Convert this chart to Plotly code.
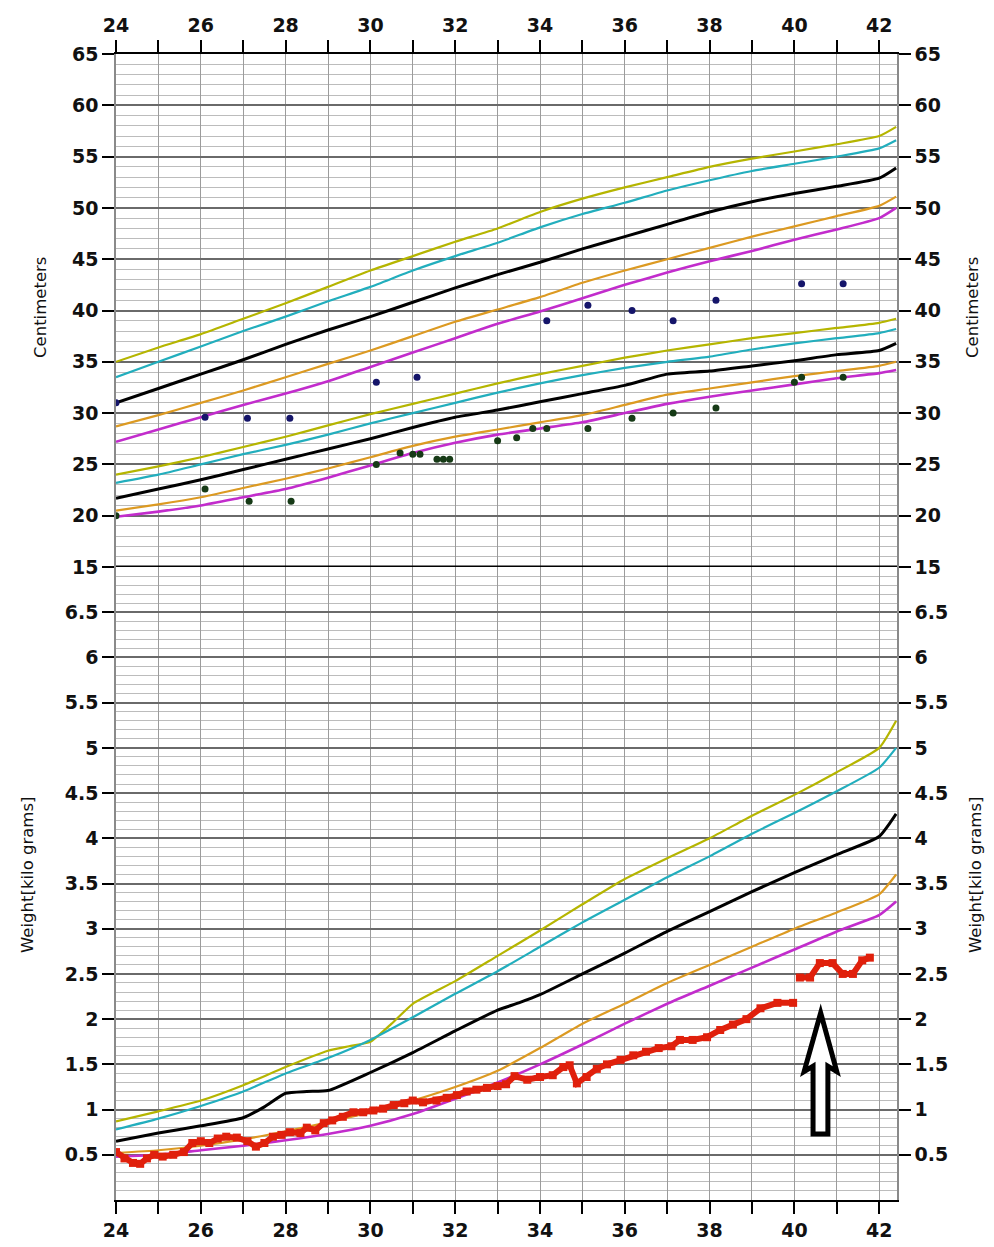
import plotly.graph_objects as go

# ---------------- data ----------------
weeks = [24, 25, 26, 27, 28, 29, 30, 31, 32, 33, 34, 35, 36, 37, 38, 39, 40, 41, 42, 42.4]

# Length reference curves (cm)
len_yellow = [35.0, 36.4, 37.7, 39.2, 40.7, 42.3, 43.9, 45.3, 46.7, 48.0, 49.6, 50.9, 52.0, 53.0, 54.0, 54.8, 55.5, 56.2, 57.0, 57.9]
len_cyan = [33.5, 35.0, 36.5, 38.0, 39.4, 40.9, 42.3, 43.9, 45.3, 46.6, 48.1, 49.4, 50.5, 51.7, 52.7, 53.6, 54.3, 55.0, 55.8, 56.6]
len_black = [31.0, 32.4, 33.8, 35.2, 36.7, 38.1, 39.4, 40.8, 42.2, 43.5, 44.7, 46.0, 47.2, 48.4, 49.6, 50.6, 51.4, 52.1, 52.9, 53.9]
len_orange = [28.7, 29.8, 31.0, 32.2, 33.5, 34.8, 36.1, 37.5, 38.9, 40.1, 41.3, 42.7, 43.9, 45.0, 46.1, 47.2, 48.2, 49.2, 50.2, 51.1]
len_magenta = [27.2, 28.4, 29.6, 30.8, 31.9, 33.1, 34.5, 35.9, 37.3, 38.7, 39.9, 41.2, 42.5, 43.7, 44.8, 45.8, 46.9, 47.9, 49.0, 50.0]

# Head circumference reference curves (cm)
head_yellow = [24.0, 24.8, 25.7, 26.7, 27.7, 28.8, 29.9, 30.9, 31.9, 32.9, 33.8, 34.6, 35.4, 36.1, 36.7, 37.3, 37.8, 38.3, 38.8, 39.2]
head_cyan = [23.2, 24.0, 25.0, 26.0, 26.9, 27.9, 29.0, 30.0, 31.0, 32.0, 32.9, 33.7, 34.4, 35.0, 35.5, 36.2, 36.8, 37.3, 37.8, 38.2]
head_black = [21.7, 22.6, 23.5, 24.5, 25.5, 26.5, 27.5, 28.6, 29.6, 30.3, 31.1, 31.9, 32.7, 33.8, 34.1, 34.6, 35.1, 35.7, 36.1, 36.8]
head_orange = [20.5, 21.1, 21.8, 22.7, 23.6, 24.6, 25.7, 26.8, 27.7, 28.4, 29.1, 29.8, 30.8, 31.8, 32.4, 33.0, 33.6, 34.1, 34.6, 35.0]
head_magenta = [19.9, 20.4, 21.0, 21.8, 22.6, 23.7, 24.9, 26.1, 27.1, 27.9, 28.5, 29.1, 30.0, 30.9, 31.6, 32.2, 32.8, 33.4, 33.9, 34.2]

# Weight reference curves (kg)
wt_yellow_x = [24, 25, 26, 27, 28, 29, 29.5, 30, 30.5, 31, 32, 33, 34, 35, 36, 37, 38, 39, 40, 41, 42, 42.4]
wt_yellow = [0.87, 0.98, 1.10, 1.27, 1.47, 1.65, 1.70, 1.75, 1.95, 2.17, 2.42, 2.70, 2.98, 3.27, 3.55, 3.78, 4.00, 4.25, 4.48, 4.73, 5.00, 5.30]
wt_cyan = [0.78, 0.90, 1.04, 1.20, 1.40, 1.57, 1.77, 2.02, 2.28, 2.53, 2.80, 3.07, 3.32, 3.57, 3.80, 4.05, 4.28, 4.52, 4.78, 5.00]
wt_black_x = [24, 25, 26, 27, 27.5, 28, 28.5, 29, 30, 31, 32, 33, 33.5, 34, 35, 36, 37, 38, 39, 40, 41, 42, 42.4]
wt_black = [0.65, 0.74, 0.82, 0.91, 1.03, 1.18, 1.20, 1.21, 1.41, 1.63, 1.87, 2.10, 2.18, 2.27, 2.50, 2.73, 2.97, 3.19, 3.41, 3.62, 3.82, 4.02, 4.27]
wt_orange = [0.52, 0.55, 0.60, 0.67, 0.76, 0.86, 0.97, 1.10, 1.25, 1.43, 1.68, 1.95, 2.17, 2.40, 2.60, 2.80, 3.00, 3.18, 3.38, 3.60]
wt_magenta = [0.48, 0.50, 0.55, 0.60, 0.66, 0.73, 0.82, 0.95, 1.12, 1.30, 1.50, 1.72, 1.95, 2.17, 2.37, 2.57, 2.77, 2.97, 3.15, 3.30]

# Patient measurements
length_wk = [24.0, 26.1, 27.1, 28.1, 30.14, 31.1, 34.16, 35.13, 36.17, 37.14, 38.15, 40.17, 41.15]
length_cm = [31.0, 29.6, 29.5, 29.5, 33.0, 33.5, 39.0, 40.5, 40.0, 39.0, 41.0, 42.6, 42.6]

head_wk = [24.0, 26.1, 27.14, 28.13, 30.14, 30.7, 31.0, 31.17, 31.57, 31.72, 31.87, 33.0, 33.45, 33.83, 34.16, 35.13, 36.17, 37.14, 38.15, 40.0, 40.17, 41.15]
head_cm = [20.0, 22.6, 21.4, 21.4, 25.0, 26.1, 26.0, 26.0, 25.5, 25.5, 25.5, 27.3, 27.6, 28.5, 28.5, 28.5, 29.5, 30.0, 30.5, 33.0, 33.5, 33.5]

weight_wk = [24.0, 24.2, 24.4, 24.57, 24.73, 24.9, 25.1, 25.35, 25.6, 25.8, 26.0, 26.2, 26.4, 26.6, 26.85,
             27.1, 27.3, 27.5, 27.7, 27.9, 28.1, 28.35, 28.5, 28.7, 28.9, 29.1, 29.35, 29.6, 29.83, 30.07,
             30.3, 30.55, 30.8, 31.0, 31.24, 31.56, 31.8, 32.04, 32.27, 32.5, 32.75, 33.0, 33.2, 33.4, 33.7,
             34.0, 34.3, 34.55, 34.7, 34.87, 35.1, 35.34, 35.58, 35.9, 36.2, 36.5, 36.8, 37.1, 37.3, 37.6,
             37.94, 38.25, 38.55, 38.87, 39.2, 39.6, 39.97, 40.05, 40.13, 40.37, 40.6, 40.9, 41.14, 41.38, 41.6, 41.78]
weight_kg = [0.53, 0.46, 0.41, 0.40, 0.46, 0.50, 0.48, 0.50, 0.53, 0.63, 0.65, 0.63, 0.68, 0.70, 0.69,
             0.65, 0.59, 0.63, 0.70, 0.72, 0.75, 0.74, 0.80, 0.77, 0.85, 0.88, 0.92, 0.97, 0.97, 0.99,
             1.01, 1.05, 1.07, 1.10, 1.08, 1.10, 1.13, 1.16, 1.20, 1.22, 1.24, 1.26, 1.28, 1.37, 1.33,
             1.36, 1.38, 1.47, 1.49, 1.29, 1.36, 1.45, 1.50, 1.55, 1.60, 1.64, 1.68, 1.70, 1.77, 1.77,
             1.80, 1.88, 1.94, 2.00, 2.12, 2.18, 2.18, None, 2.46, 2.46, 2.62, 2.62, 2.50, 2.50, 2.65, 2.68]

x_ticks = list(range(24, 43))
x_labels = [str(w) if w % 2 == 0 else "" for w in x_ticks]
cm_ticks = [15, 20, 25, 30, 35, 40, 45, 50, 55, 60, 65]
kg_ticks = [0.5, 1, 1.5, 2, 2.5, 3, 3.5, 4, 4.5, 5, 5.5, 6, 6.5]
kg_labels = ["0.5", "1", "1.5", "2", "2.5", "3", "3.5", "4", "4.5", "5", "5.5", "6", "6.5"]

x_range = [24, 42.42]
cm_range = [15, 65]
kg_range = [0, 7]

# arrow annotation outline (weeks, kg)
arrow_x = [40.62, 41.0, 40.79, 40.79, 40.44, 40.44, 40.23]
arrow_y = [2.07, 1.42, 1.48, 0.73, 0.73, 1.48, 1.42]

# ---------------- styling ----------------
YELLOW = "#b5b500"
CYAN = "#22aebd"
BLACK = "#000000"
ORANGE = "#dc9a22"
MAGENTA = "#c22ccc"
FONT = "DejaVu Sans, Verdana, sans-serif"

fig = go.Figure()

def curve(x, y, color, width, xa, ya):
    fig.add_trace(go.Scatter(x=x, y=y, mode="lines", xaxis=xa, yaxis=ya,
                             line=dict(color=color, width=width, shape="spline", smoothing=0.5),
                             hoverinfo="skip", showlegend=False))

for ys, c, w in [(len_yellow, YELLOW, 2.2), (len_cyan, CYAN, 2.2), (len_black, BLACK, 3),
                 (len_orange, ORANGE, 2.2), (len_magenta, MAGENTA, 2.6)]:
    curve(weeks, ys, c, w, "x2", "y2")
for ys, c, w in [(head_yellow, YELLOW, 2.2), (head_cyan, CYAN, 2.2), (head_black, BLACK, 3),
                 (head_orange, ORANGE, 2.2), (head_magenta, MAGENTA, 2.6)]:
    curve(weeks, ys, c, w, "x2", "y2")

curve(wt_yellow_x, wt_yellow, YELLOW, 2.2, "x", "y")
curve(weeks, wt_cyan, CYAN, 2.2, "x", "y")
curve(wt_black_x, wt_black, BLACK, 3, "x", "y")
curve(weeks, wt_orange, ORANGE, 2.2, "x", "y")
curve(weeks, wt_magenta, MAGENTA, 2.6, "x", "y")

fig.add_trace(go.Scatter(x=length_wk, y=length_cm, mode="markers", xaxis="x2", yaxis="y2",
                         marker=dict(color="#15156a", size=7), showlegend=False, hoverinfo="skip"))
fig.add_trace(go.Scatter(x=head_wk, y=head_cm, mode="markers", xaxis="x2", yaxis="y2",
                         marker=dict(color="#163a16", size=7), showlegend=False, hoverinfo="skip"))
fig.add_trace(go.Scatter(x=weight_wk, y=weight_kg, mode="lines+markers", xaxis="x", yaxis="y",
                         line=dict(color="#e0200c", width=6),
                         marker=dict(color="#e0200c", size=8, symbol="square"),
                         showlegend=False, hoverinfo="skip"))

# dummy traces so that the right-side axes are drawn
fig.add_trace(go.Scatter(x=[x_range[0]], y=[cm_range[0]], xaxis="x2", yaxis="y3", mode="markers",
                         marker=dict(opacity=0), showlegend=False, hoverinfo="skip"))
fig.add_trace(go.Scatter(x=[x_range[0]], y=[kg_range[0]], xaxis="x", yaxis="y4", mode="markers",
                         marker=dict(opacity=0), showlegend=False, hoverinfo="skip"))

# page body has an 8px margin; plot area should span x 116..897, y 54..1200 of the page
BODY = 8
W, H = 994 - BODY, 1247 - BODY
ml, mr, mt, mb = 116 - BODY, 97, 54 - BODY, 47
plot_w = W - ml - mr
plot_h = H - mt - mb
split = 633 / plot_h

tickfont = dict(family=FONT, size=19, color="#111111", weight="bold")

xcommon = dict(range=x_range, tickmode="array", tickvals=x_ticks, ticktext=x_labels,
               ticks="outside", ticklen=12, tickwidth=2, tickcolor="black",
               showline=True, linecolor="black", linewidth=2,
               showgrid=True, gridcolor="#9c9c9c", gridwidth=1, zeroline=False,
               tickfont=tickfont, automargin=False)
ycommon = dict(ticks="outside", ticklen=12, tickwidth=2, tickcolor="black",
               showline=True, linecolor="#8a8a8a", linewidth=1.5, zeroline=False,
               tickfont=tickfont, tickmode="array", automargin=False)

fig.update_layout(
    width=W, height=H, margin=dict(l=ml, r=mr, t=mt, b=mb, autoexpand=False),
    paper_bgcolor="white", plot_bgcolor="white", showlegend=False,
    xaxis=dict(domain=[0, 1], anchor="y", side="bottom", **xcommon),
    xaxis2=dict(domain=[0, 1], anchor="y2", side="top", matches="x", **xcommon),
    yaxis=dict(domain=[0, split], range=kg_range, tickvals=kg_ticks, ticktext=kg_labels,
               showgrid=True, gridcolor="#6a6a6a", gridwidth=1.6,
               minor=dict(tickmode="linear", tick0=0, dtick=0.1, showgrid=True,
                          gridcolor="#bcbcbc", gridwidth=1, ticks=""),
               anchor="x", **ycommon),
    yaxis2=dict(domain=[split, 1], range=cm_range, tickvals=cm_ticks,
                showgrid=True, gridcolor="#6a6a6a", gridwidth=1.6,
                minor=dict(tickmode="linear", tick0=0, dtick=1, showgrid=True,
                           gridcolor="#bcbcbc", gridwidth=1, ticks=""),
                anchor="x2", **ycommon),
    yaxis3=dict(overlaying="y2", side="right", anchor="x2", range=cm_range, tickvals=cm_ticks,
                showgrid=False, **ycommon),
    yaxis4=dict(overlaying="y", side="right", anchor="x", range=kg_range, tickvals=kg_ticks,
                ticktext=kg_labels, showgrid=False, **ycommon),
)

# thick separator at 15 cm
fig.add_shape(type="line", xref="paper", yref="y2", x0=0, x1=1, y0=cm_range[0], y1=cm_range[0],
              line=dict(color="black", width=3), layer="above")

# hollow arrow
path = "M " + " L ".join(f"{x},{y}" for x, y in zip(arrow_x, arrow_y)) + " Z"
fig.add_shape(type="path", xref="x", yref="y", path=path,
              line=dict(color="black", width=5), fillcolor="white", layer="above")

def ytitle(text, px_x, px_y):
    # px_x, px_y are page pixel positions
    fig.add_annotation(text=text, xref="paper", yref="paper",
                       x=(px_x - 116) / plot_w, y=(1200 - px_y) / plot_h,
                       showarrow=False, textangle=-90, xanchor="center", yanchor="middle",
                       font=dict(family=FONT, size=16.5, color="#111111"))

ytitle("Centimeters", 40, 308)
ytitle("Centimeters", 972, 308)
ytitle("Weight[kilo grams]", 28, 875)
ytitle("Weight[kilo grams]", 976, 875)

fig.write_html("out.html")
